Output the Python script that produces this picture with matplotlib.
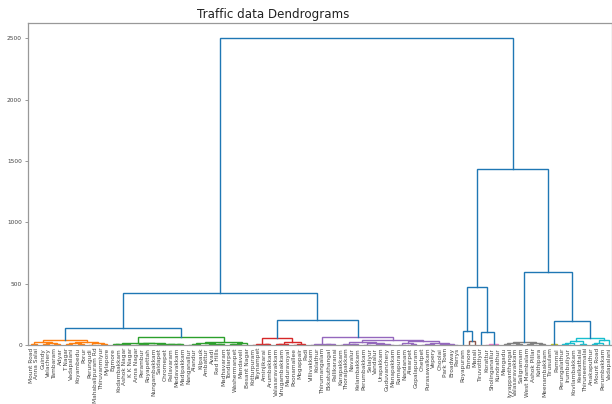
import matplotlib
matplotlib.use("Agg")
import matplotlib.pyplot as plt

title = "Traffic data Dendrograms"

leaf_labels = [
    "Mount Road", "Anna Salai", "Guindy", "Velachery", "Tambaram", "Adyar", "T Nagar",
    "Vadapalani", "Koyambedu", "Porur", "Perungudi", "Mahabalipuram Rd", "Thiruvanmiyur", "Mylapore",
    "Egmore", "Kodambakkam", "Ashok Nagar", "K K Nagar", "Anna Nagar", "Perambur", "Royapettah",
    "Nungambakkam", "Saidapet", "Chromepet", "Pallavaram", "Medavakkam", "Madipakkam", "Nanganallur",
    "Alandur", "Kilpauk", "Ambattur", "Avadi", "Red Hills", "Madhavaram", "Tondiarpet",
    "Washermanpet", "Mandaveli", "Besant Nagar", "Kotturpuram", "Teynampet", "Aminjikarai", "Arumbakkam",
    "Valasaravakkam", "Virugambakkam", "Maduravoyal", "Poonamallee", "Mogappair", "Padi", "Villivakkam",
    "Kolathur", "Thirumangalam", "Ekkatuthangal", "Pallikaranai", "Karapakkam", "Thoraipakkam", "Navalur",
    "Kelambakkam", "Perumbakkam", "Selaiyur", "Vandalur", "Urapakkam", "Guduvanchery", "Manapakkam",
    "Ramapuram", "Nandanam", "Alwarpet", "Gopalapuram", "Chetpet", "Purasawalkam", "Vepery",
    "Choolai", "Park Town", "Broadway", "Parrys", "Royapuram", "Ennore", "Manali",
    "Tiruvottiyur", "Korattur", "Sholinganallur", "Kundrathur", "Mangadu", "Iyyappanthangal", "Valasaravakkam",
    "Saligramam", "West Mambalam", "Ashok Pillar", "Kathipara", "Meenambakkam", "Tirusulam", "Pammal",
    "Perungalathur", "Irumbuliyur", "Kovilambakkam", "Keelkattalai", "Thiruneermalai", "Anakaputhur",
    "Mount Road", "Perumbakkam", "Vadapalani",
]

# Cluster subtrees: (left, right, merge height); ints are leaf indices
orange_tree = (((0, 1, 9), ((2, 3, 6), (4, 5, 12), 17), 26),
               (((6, 7, 5), (8, 9, 11), 15), ((10, 11, 4), (12, 13, 8), 13), 21), 40)
green_tree = ((((14, 15, 5), (16, 17, 7), 10),
               (((18, 19, 3), 20, 6), ((21, 22, 4), ((23, 24, 2), (25, 26, 5), 8), 11), 13), 16),
              ((((27, 28, 4), 29, 8), ((30, 31, 3), (32, 33, 6), 10), 14),
               (((34, 35, 5), 36, 9), 37, 17), 25), 65)
red_tree = (((38, 39, 4), (40, 41, 6), 10),
            (((42, 43, 5), 44, 9), ((45, 46, 3), 47, 7), 25), 60)
purple_tree = (((48, 49, 3), ((50, 51, 2), 52, 6), 10),
               ((((53, 54, 4), (55, 56, 6), 12), ((57, 58, 3), ((59, 60, 5), (61, 62, 2), 8), 14), 22),
                (((63, 64, 4), (65, 66, 7), 15),
                 (((67, 68, 3), 69, 6), ((70, 71, 5), (72, 73, 4), 9), 18), 30), 40), 65)
brown_tree = (75, 76, 35)
pink_tree = ((78, 79, 4), 80, 10)
grey_tree = (((81, 82, 6), (83, 84, 10), 16), ((85, 86, 5), (87, 88, 12), 18), 25)
olive_tree = (89, 90, 5)
cyan_tree = ((((91, 92, 8), 93, 15), (94, 95, 12), 30),
             (((96, 97, 10), 98, 18), 99, 38), 60)

left_tree = ((orange_tree, green_tree, 138), (red_tree, purple_tree, 203), 423)
right_tree = (((74, brown_tree, 114), (77, pink_tree, 110), 472),
              (grey_tree, (olive_tree, cyan_tree, 195), 594), 1433)
root_tree = (left_tree, right_tree, 2500)

cluster_colors = [(orange_tree, "C1"), (green_tree, "C2"), (red_tree, "C3"),
                  (purple_tree, "C4"), (brown_tree, "C5"), (pink_tree, "C6"),
                  (grey_tree, "C7"), (olive_tree, "C8"), (cyan_tree, "C9")]
above_color = "C0"

yticks = [0, 500, 1000, 1500, 2000, 2500]

fig = plt.figure(figsize=(6.12, 4.04), dpi=100)
ax = fig.add_axes([0.046, 0.146, 0.954, 0.797])


def draw(node, color=None):
    if isinstance(node, int):
        return 5 + 10 * node, 0.0
    if color is None:
        for t, c in cluster_colors:
            if node is t:
                color = c
                break
    a, b, h = node
    xa, ha = draw(a, color)
    xb, hb = draw(b, color)
    ax.plot([xa, xa, xb, xb], [ha, h, h, hb], color=color or above_color,
            lw=1.0, solid_joinstyle="miter")
    return (xa + xb) / 2.0, h


draw(root_tree)

n = len(leaf_labels)
ax.set_xlim(0, 10 * n)
ax.set_ylim(0, 2500 * 1.05)
ax.set_xticks([5 + 10 * i for i in range(n)])
ax.set_xticklabels(leaf_labels, rotation=90, fontsize=4.2, color="#444")
ax.tick_params(axis="x", length=0, pad=2)
ax.set_yticks(yticks)
ax.set_yticklabels([str(v) for v in yticks], fontsize=4.2, color="#444")
ax.tick_params(axis="y", length=2.5, width=0.6, color="#888", pad=2)
for s in ax.spines.values():
    s.set_color("#999")
    s.set_linewidth(0.9)

fig.text(273 / 612, 1 - 14.5 / 404, title, ha="center", va="center",
         fontsize=8.6, color="#222")

fig.savefig("out.png", dpi=100)
